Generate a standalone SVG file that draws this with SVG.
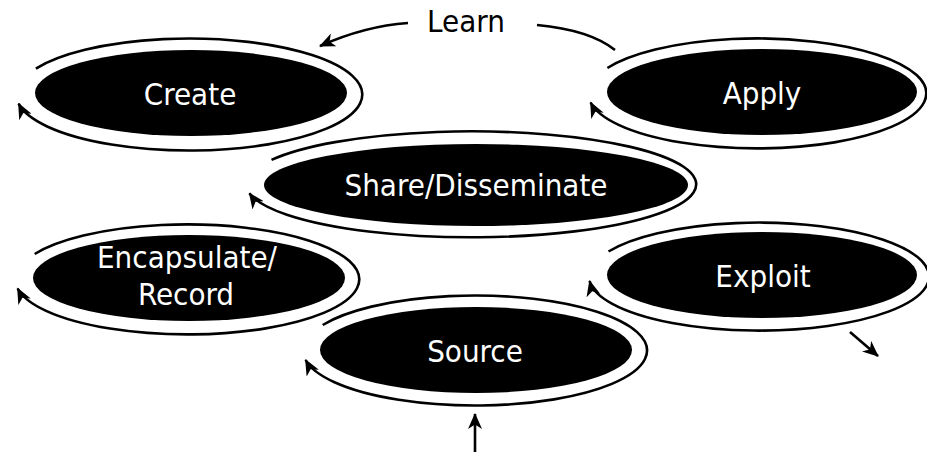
<svg xmlns="http://www.w3.org/2000/svg" width="927" height="452" viewBox="0 0 927 452">
<style>
.node ellipse{fill:#000}
.ring{fill:none;stroke:#000;stroke-width:2.6;marker-end:url(#ah)}
.lbl{font-family:"DejaVu Sans Condensed","DejaVu Sans",sans-serif;font-stretch:condensed;font-size:31px;fill:#fff;text-anchor:middle}
.blk{fill:#000}
.conn path,.conn line{fill:none;stroke:#000;stroke-width:2.6}
</style>
<defs>
<marker id="ah" markerUnits="userSpaceOnUse" markerWidth="16" markerHeight="14" viewBox="0 0 16 14" refX="15" refY="7" orient="auto">
<path d="M0,0 L16,7 L0,14 L4.5,7 z" fill="#000"/>
</marker>
</defs>
<rect width="927" height="452" fill="#fff"/>
<g id="create" class="node">
<ellipse cx="191" cy="93" rx="156" ry="43"/>
<path class="ring" d="M35.9,68.6 A173,56 0 1 1 18.6,103.7"/>
<text class="lbl" x="190" y="105">Create</text>
</g>
<g id="apply" class="node">
<ellipse cx="762" cy="92" rx="155" ry="43"/>
<path class="ring" d="M607.4,68 A169,55 0 1 1 590.6,102.5"/>
<text class="lbl" x="762" y="104">Apply</text>
</g>
<g id="share" class="node">
<ellipse cx="476" cy="185" rx="212" ry="41"/>
<path class="ring" d="M271.5,159.9 A225,53 0 1 1 249.4,193.2"/>
<text class="lbl" x="476" y="196">Share/Disseminate</text>
</g>
<g id="encapsulate" class="node">
<ellipse cx="189" cy="278" rx="156" ry="43"/>
<path class="ring" d="M34.7,254 A172,55 0 1 1 17.6,288.5"/>
<text class="lbl" x="187" y="268">Encapsulate/</text>
<text class="lbl" x="186" y="305">Record</text>
</g>
<g id="exploit" class="node">
<ellipse cx="762" cy="275" rx="155" ry="43"/>
<path class="ring" d="M608.5,251.5 A170,54 0 1 1 589.6,281"/>
<text class="lbl" x="763" y="287">Exploit</text>
</g>
<g id="source" class="node">
<ellipse cx="476" cy="350" rx="156" ry="43"/>
<path class="ring" d="M322.7,325 A172,55 0 1 1 305.6,360"/>
<text class="lbl" x="475" y="362">Source</text>
</g>
<g id="learn">
<text class="lbl blk" x="466" y="32">Learn</text>
</g>
<g id="connectors" class="conn">
<path d="M408,23 Q365,26 320,46" marker-end="url(#ah)"/>
<path d="M537,25 Q590,30 615,50"/>
<line x1="475" y1="452" x2="475" y2="414" marker-end="url(#ah)"/>
<line x1="850" y1="332" x2="878" y2="356" marker-end="url(#ah)"/>
</g>
</svg>
